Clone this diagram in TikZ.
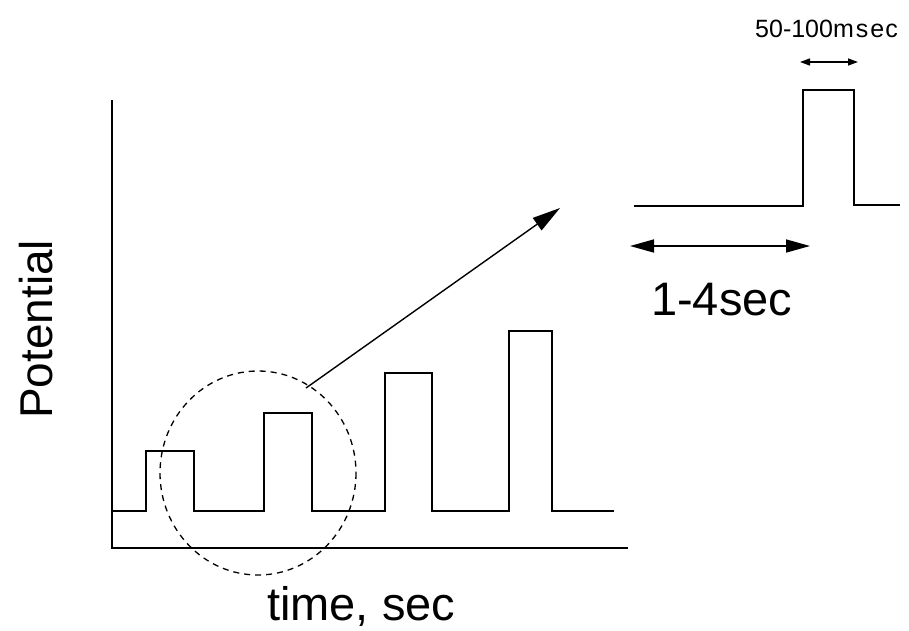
\documentclass[tikz,border=0pt]{standalone}
\usepackage{fontspec}
\setmainfont{Liberation Sans}
\usetikzlibrary{arrows.meta}
\tikzset{
  sig/.style={line width=2pt, line join=miter},
  dimarrow/.style={line width=1.6pt, {Triangle[length=24pt,width=13pt]}-{Triangle[length=24pt,width=13pt]}},
  smallarrow/.style={line width=1.4pt, {Triangle[length=10pt,width=7pt]}-{Triangle[length=10pt,width=7pt]}},
  zoomarrow/.style={line width=1.4pt, -{Triangle[length=28pt,width=15pt]}},
  lbl/.style={inner sep=0pt, anchor=base west}
}
\begin{document}
\begin{tikzpicture}[x=1pt,y=-1pt]
\useasboundingbox (0,0) rectangle (909,630);
% axes
\coordinate (ytop) at (112,100);
\coordinate (orig) at (112,548);
\coordinate (xend) at (628,548);
\draw[sig] (ytop) -- (orig) -- (xend);
% pulse train
\draw[sig] (112,511) -- (146,511) -- (146,451) -- (194,451) -- (194,511)
  -- (264,511) -- (264,413) -- (312,413) -- (312,511)
  -- (385,511) -- (385,373) -- (432,373) -- (432,511)
  -- (509,511) -- (509,331) -- (552,331) -- (552,511) -- (614,511);
% dashed zoom circle
\draw[line width=1.3pt, dash pattern=on 6pt off 5pt] (258,473) ellipse [x radius=98, y radius=102];
% zoom arrow
\coordinate (za) at (306,388);
\coordinate (zb) at (560,208);
\draw[zoomarrow] (za) -- (zb);
% inset pulse
\draw[sig] (634,206) -- (803,206) -- (803,90) -- (854,90) -- (854,205) -- (900,205);
% dimension arrows
\coordinate (la) at (630,246);
\coordinate (lb) at (810,246);
\draw[dimarrow] (la) -- (lb);
\coordinate (sa) at (800,62);
\coordinate (sb) at (858,62);
\draw[smallarrow] (sa) -- (sb);
% labels
\node[lbl, font=\fontsize{25}{25}\selectfont] (msec) at (755,37) {50-100m\kern2pt s\kern2pt e\kern1pt c};
\node[lbl, font=\fontsize{47}{47}\selectfont] (sec) at (651,315) {1-4sec};
\node[lbl, font=\fontsize{47}{47}\selectfont] (time) at (267,620) {time, sec};
\node[lbl, font=\fontsize{46}{46}\selectfont, rotate=90] (pot) at (52,419) {Potential};
\end{tikzpicture}
\end{document}
